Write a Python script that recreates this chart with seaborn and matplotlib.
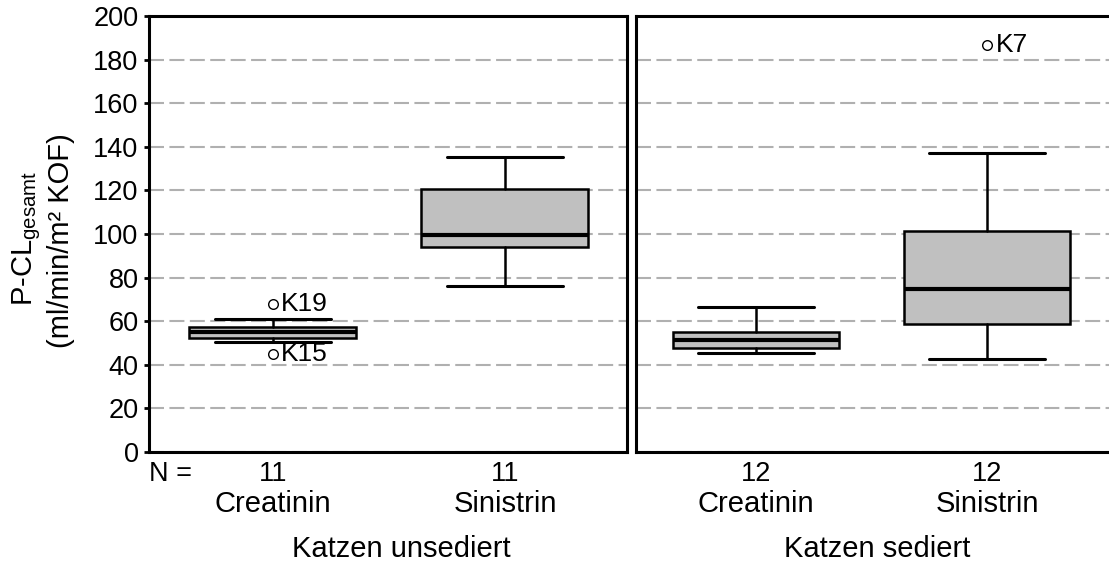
import matplotlib
matplotlib.use("Agg")
import matplotlib.pyplot as plt
import matplotlib.transforms as mtransforms
import pandas as pd
import seaborn as sns

# Groups and substances
groups = ["Katzen unsediert", "Katzen sediert"]
substances = ["Creatinin", "Sinistrin"]
n_unsediert = [11, 11]
n_sediert = [12, 12]

# Five-number summaries: whisker low, Q1, median, Q3, whisker high
unsediert_creatinin = [50.5, 52.2, 55.0, 57.3, 60.9]
unsediert_sinistrin = [76.0, 94.2, 99.5, 120.6, 135.2]
sediert_creatinin = [45.3, 47.6, 51.4, 55.2, 66.7]
sediert_sinistrin = [42.7, 58.7, 74.8, 101.5, 137.0]

# Outliers with animal IDs
outlier_group = ["Katzen unsediert", "Katzen unsediert", "Katzen sediert"]
outlier_substance = ["Creatinin", "Creatinin", "Sinistrin"]
outlier_value = [68.0, 45.0, 186.7]
outlier_label = ["K19", "K15", "K7"]

y_ticks = list(range(0, 201, 20))

sns.set_style("white")
plt.rcParams["font.family"] = ["Liberation Sans", "DejaVu Sans"]
plt.rcParams["mathtext.default"] = "regular"
for key in ["text.color", "axes.labelcolor", "xtick.color", "ytick.color"]:
    plt.rcParams[key] = "black"

W, H = 1109, 565
fig = plt.figure(figsize=(W / 100, H / 100), dpi=100)

ax_top, ax_bottom = 16, 452
ax_l = fig.add_axes([149 / W, 1 - ax_bottom / H, (627 - 149) / W, (ax_bottom - ax_top) / H])
ax_r = fig.add_axes([636 / W, 1 - ax_bottom / H, (W - 636) / W, (ax_bottom - ax_top) / H])

outliers = pd.DataFrame({
    "group": outlier_group,
    "substance": outlier_substance,
    "value": outlier_value,
    "label": outlier_label,
})
outliers["pos"] = outliers["substance"].map({s: i for i, s in enumerate(substances)})


def summary(vals):
    lo, q1, med, q3, hi = vals
    return dict(whislo=lo, q1=q1, med=med, q3=q3, whishi=hi, fliers=[])


panels = [
    (ax_l, groups[0], [unsediert_creatinin, unsediert_sinistrin], n_unsediert, (-0.534, 1.526)),
    (ax_r, groups[1], [sediert_creatinin, sediert_sinistrin], n_sediert, (-0.52, 1.528)),
]

LABEL_SIZE = 21

for ax, group, stats, counts, xlim in panels:
    ax.set_axisbelow(True)
    ax.set_ylim(0, 200)
    ax.set_xlim(*xlim)
    ax.set_yticks(y_ticks)
    ax.yaxis.grid(True, color="#b0b0b0", linewidth=1.5, linestyle=(0, (7.2, 2.6)))
    ax.xaxis.grid(False)

    ax.bxp([summary(s) for s in stats], positions=[0, 1], widths=0.72,
           capwidths=0.5, patch_artist=True, showfliers=False, manage_ticks=False,
           boxprops=dict(facecolor="#c0c0c0", edgecolor="black", linewidth=1.8),
           medianprops=dict(color="black", linewidth=3.0),
           whiskerprops=dict(color="black", linewidth=1.8),
           capprops=dict(color="black", linewidth=2.2))

    sub = outliers[outliers["group"] == group]
    if len(sub):
        sns.scatterplot(data=sub, x="pos", y="value", ax=ax, marker="o", s=48,
                        facecolor="white", edgecolor="black", linewidth=1.0,
                        zorder=6, legend=False)
        for _, row in sub.iterrows():
            ax.annotate(row["label"], (row["pos"], row["value"]), xytext=(6.0, 0),
                        textcoords="offset points", ha="left", va="center",
                        fontsize=19, zorder=7)
    ax.set_xlabel("")
    ax.set_ylabel("")

    ax.set_xticks([0, 1])
    ax.set_xticklabels([])
    ax.tick_params(axis="x", length=2.5, width=2, direction="out", color="black")

    trans = mtransforms.blended_transform_factory(ax.transData, fig.transFigure)
    for i, (sname, n) in enumerate(zip(substances, counts)):
        ax.text(i, 1 - 474 / H, str(n), transform=trans, ha="center", va="center", fontsize=19.5)
        ax.text(i, 1 - 504 / H, sname, transform=trans, ha="center", va="center", fontsize=LABEL_SIZE)

    for side in ["left", "top", "bottom", "right"]:
        ax.spines[side].set_linewidth(2.2)
        ax.spines[side].set_color("black")

# Left panel carries the y axis
ax_l.tick_params(axis="y", length=3.5, width=2, direction="out", pad=4,
                 labelsize=19.5, color="black", left=True)
ax_r.tick_params(axis="y", length=0, labelleft=False)
ax_r.spines["right"].set_visible(False)

fig.text(149 / W, 1 - 474 / H, "N =", ha="left", va="center", fontsize=19.5)
fig.text(401 / W, 1 - 549 / H, groups[0], ha="center", va="center", fontsize=LABEL_SIZE)
fig.text(877 / W, 1 - 549 / H, groups[1], ha="center", va="center", fontsize=LABEL_SIZE)

fig.text(27 / W, 1 - 238 / H, r"P-CL$_{gesamt}$", rotation=90, ha="center", va="center", fontsize=LABEL_SIZE)
fig.text(61 / W, 1 - 241 / H, "(ml/min/m² KOF)", rotation=90, ha="center", va="center", fontsize=LABEL_SIZE)

fig.savefig("out.png", dpi=100)
